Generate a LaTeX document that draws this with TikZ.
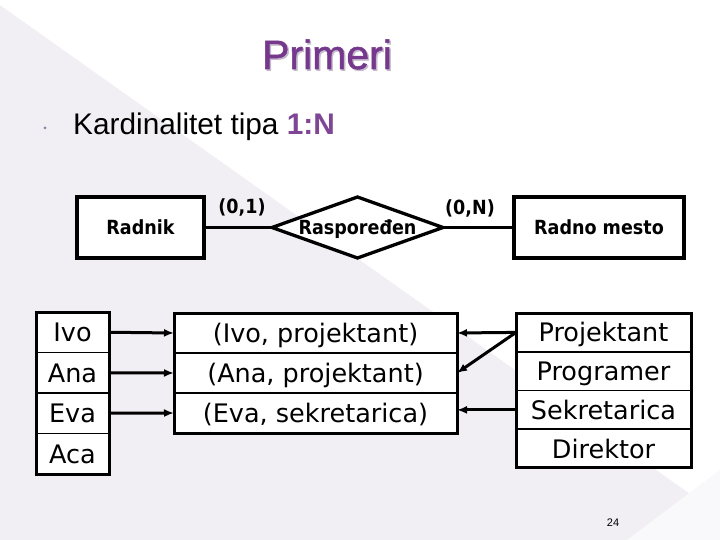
\documentclass[tikz,border=0pt]{standalone}
\usepackage{fontspec}
\setmainfont{Liberation Sans}
\newfontfamily\dvs{DejaVu Sans}
\newfontfamily\dvsc{DejaVu Sans Condensed}
\newfontfamily\ttlfont[FakeBold=1.3]{Liberation Sans}
\usetikzlibrary{shapes.geometric,arrows.meta}
\definecolor{bggray}{RGB}{241,239,244}
\definecolor{ttlpurple}{RGB}{118,56,140}
\definecolor{ttlshadow}{RGB}{196,186,204}
\definecolor{accpurple}{RGB}{128,70,150}
\definecolor{bulletc}{RGB}{150,120,160}
\begin{document}
\begin{tikzpicture}[x=1pt,y=-1pt,
  erbox/.style={draw=black,line width=3.3pt,fill=white,inner sep=0pt,outer sep=0pt,
    text height=14pt,text depth=0pt,font=\dvsc\bfseries\fontsize{19.5}{22}\selectfont},
  erlabel/.style={inner sep=0pt,font=\dvsc\bfseries\fontsize{19.5}{22}\selectfont},
  cell/.style={draw=black,line width=1.8pt,fill=white,inner sep=0pt,outer sep=0pt,
    text height=19pt,text depth=0pt,font=\dvs\fontsize{25.5}{30}\selectfont},
  leftcell/.style={cell,minimum width=73pt,minimum height=40.5pt},
  midcell/.style={cell,minimum width=283pt,minimum height=40pt},
  rightcell/.style={cell,minimum width=175pt,minimum height=38.75pt},
  outerframe/.style={draw=black,line width=3pt},
  erline/.style={draw=black,line width=3.3pt},
  arr/.style={draw=black,line width=3pt,-{Latex[length=10pt,width=8pt]}},
  ttltext/.style={anchor=base,inner sep=0pt,font=\ttlfont\fontsize{41}{48}\selectfont}
]
\useasboundingbox (0,0) rectangle (720,540);
% background
\fill[bggray] (0,0) rectangle (720,540);
\fill[white] (0,0) -- (0,5) -- (720,515) -- (720,0) -- cycle;
\fill[white!60!bggray] (627,540) -- (720,540) -- (720,470) -- cycle;
% title
\node[ttltext,text=ttlshadow] (titleshadow) at (328.5,70.5) {Primeri};
\node[ttltext,text=ttlpurple] (title) at (327,69) {Primeri};
% bullet
\fill[bulletc] (45,128) circle (1.5);
\node[anchor=base west,inner sep=0pt,font=\fontsize{29.8}{34}\selectfont] (bullettext) at (73,135)
  {Kardinalitet tipa \textcolor{accpurple}{\bfseries 1:N}};
% ER diagram
\node[erbox,minimum width=127pt,minimum height=61pt] (radnik) at (140.5,227.5) {Radnik};
\node[erbox,shape=diamond,aspect=2.8,minimum width=171pt,minimum height=61pt] (rasp) at (357.5,227.5) {Raspoređen};
\node[erbox,minimum width=170pt,minimum height=61pt] (mesto) at (599,227.5) {Radno mesto};
\draw[erline] (radnik.east) -- (rasp.west);
\draw[erline] (rasp.east) -- (mesto.west);
\node[erlabel] (card1) at (242,207) {(0,1)};
\node[erlabel] (cardn) at (470,208) {(0,N)};
% left table
\node[leftcell] (ivo) at (72.5,332.25) {Ivo};
\node[leftcell] (ana) at (72.5,372.75) {Ana};
\node[leftcell] (eva) at (72.5,413.25) {Eva};
\node[leftcell] (aca) at (72.5,453.75) {Aca};
\draw[outerframe] (ivo.north west) rectangle (aca.south east);
% middle table
\node[midcell] (ip) at (315.5,333) {(Ivo, projektant)};
\node[midcell] (ap) at (315.5,373) {(Ana, projektant)};
\node[midcell] (ep) at (315.5,413) {(Eva, sekretarica)};
\draw[outerframe] (ip.north west) rectangle (ep.south east);
% right table
\node[rightcell] (proj) at (603.5,332.4) {Projektant};
\node[rightcell] (prog) at (603.5,371.1) {Programer};
\node[rightcell] (sek) at (603.5,409.9) {Sekretarica};
\node[rightcell] (dir) at (603.5,448.6) {Direktor};
\draw[outerframe] (proj.north west) rectangle (dir.south east);
% arrows
\draw[arr,shorten <=2pt] (ivo.east) -- (ip.west);
\draw[arr,shorten <=2pt] (ana.east) -- (ap.west);
\draw[arr,shorten <=2pt] (eva.east) -- (ep.west);
\draw[arr] (proj.west) -- (ip.east);
\draw[arr] (proj.west) -- (ap.east);
\draw[arr] (sek.west) -- (sek.west -| ep.east);
% page number
\node[inner sep=0pt,font=\fontsize{11}{13}\selectfont] (pagenum) at (613,523) {24};
\end{tikzpicture}
\end{document}
